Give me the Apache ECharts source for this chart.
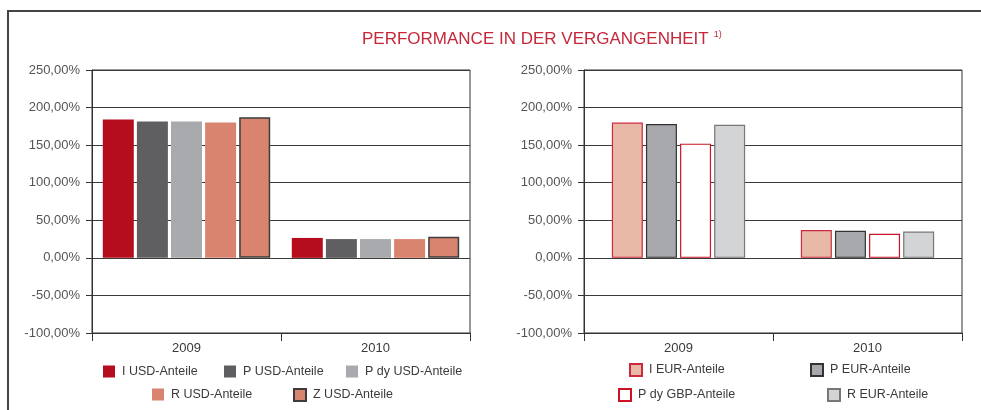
<!DOCTYPE html>
<html>
<head>
<meta charset="utf-8">
<script src="https://cdn.jsdelivr.net/npm/echarts@6/dist/echarts.min.js"></script>
<style>
    html, body { margin: 0; padding: 0; background: #fff; }
    #main { width: 981px; height: 410px; }
</style>
</head>
<body>
<div id="main"></div>
<script>
var years = ['2009', '2010'];
var usdNames = ['I USD-Anteile', 'P USD-Anteile', 'P dy USD-Anteile', 'R USD-Anteile', 'Z USD-Anteile'];
var usdValues = [
    [184, 26.5],
    [181.5, 25],
    [181.5, 25],
    [180, 25],
    [187, 28]
];
var eurNames = ['I EUR-Anteile', 'P EUR-Anteile', 'P dy GBP-Anteile', 'R EUR-Anteile'];
var eurValues = [
    [180, 37],
    [178, 36],
    [152, 32],
    [177, 35]
];
var yMin = -100, yMax = 250, yStep = 50;

var myChart = echarts.init(document.getElementById('main'));

var usdStyles = [
    {color: '#b50d1e'},
    {color: '#5f5f61'},
    {color: '#a9aaad'},
    {color: '#d9846f'},
    {color: '#d9846f', borderColor: '#3c3c3c', borderWidth: 1.5}
];
var eurStyles = [
    {color: '#e9b9a8', borderColor: '#cc2a3c', borderWidth: 1.2},
    {color: '#a8a9ac', borderColor: '#333333', borderWidth: 1.2},
    {color: '#ffffff', borderColor: '#cc1426', borderWidth: 1.2},
    {color: '#d3d4d6', borderColor: '#777777', borderWidth: 1.2}
];
// legend icon positions [left, top]
var usdLegendPos = [[103, 365], [224, 365], [346, 365], [152, 388], [293, 388]];
var eurLegendPos = [[629, 363], [810, 363], [618, 388], [827, 388]];

var txt = '#3a3a3a';
var font = 'Liberation Sans';

function yAxisOf(idx) {
    return {
        type: 'value',
        gridIndex: idx,
        min: yMin,
        max: yMax,
        interval: yStep,
        axisLine: {show: true, lineStyle: {color: '#333', width: 1}},
        axisTick: {show: true, length: 6, lineStyle: {color: '#333'}},
        axisLabel: {
            margin: 12,
            color: '#555',
            fontSize: 13,
            fontFamily: font,
            formatter: function (v) {
                return v.toFixed(2).replace('.', ',') + '%';
            }
        },
        splitLine: {show: true, lineStyle: {color: '#3a3a3a', width: 1}}
    };
}
function xAxisOf(idx) {
    return {
        type: 'category',
        gridIndex: idx,
        data: years,
        axisLine: {show: true, onZero: false, lineStyle: {color: '#333', width: 1}},
        axisTick: {show: true, length: 8, lineStyle: {color: '#333'}},
        axisLabel: {margin: 9, color: txt, fontSize: 13, fontFamily: font}
    };
}

function legendOf(n, pos) {
    return {
        data: [n],
        left: pos[0],
        top: pos[1],
        padding: 0,
        icon: 'rect',
        itemWidth: 12,
        itemHeight: 12,
        itemGap: 0,
        selectedMode: false,
        textStyle: {color: txt, fontSize: 12.5, fontFamily: font, padding: [0, 0, 0, 2]}
    };
}

var series = [];
var legends = [];
usdNames.forEach(function (n, i) {
    series.push({
        name: n,
        type: 'bar',
        xAxisIndex: 0,
        yAxisIndex: 0,
        barWidth: 31,
        barGap: '10%',
        data: usdValues[i],
        itemStyle: usdStyles[i]
    });
    legends.push(legendOf(n, usdLegendPos[i]));
});
eurNames.forEach(function (n, i) {
    series.push({
        name: n,
        type: 'bar',
        xAxisIndex: 1,
        yAxisIndex: 1,
        barWidth: 31,
        barGap: '10%',
        data: eurValues[i],
        itemStyle: eurStyles[i]
    });
    legends.push(legendOf(n, eurLegendPos[i]));
});

var option = {
    backgroundColor: '#fff',
    animation: false,
    title: {
        text: '{a|PERFORMANCE IN DER VERGANGENHEIT} {b|1)}',
        left: 357,
        top: 25,
        textStyle: {
            rich: {
                a: {color: '#c4283a', fontSize: 17, fontWeight: 'normal', fontFamily: font},
                b: {color: '#c4283a', fontSize: 9, fontWeight: 'normal', fontFamily: font, verticalAlign: 'top', padding: [0, 0, 8, 0]}
            }
        }
    },
    legend: legends,
    grid: [
        {left: 92, top: 70, width: 378, height: 263, show: true, borderColor: '#333', borderWidth: 1},
        {left: 584, top: 70, width: 378, height: 263, show: true, borderColor: '#333', borderWidth: 1}
    ],
    xAxis: [xAxisOf(0), xAxisOf(1)],
    yAxis: [yAxisOf(0), yAxisOf(1)],
    graphic: [
        {type: 'line', shape: {x1: 8, y1: 11, x2: 981, y2: 11}, style: {stroke: '#444', lineWidth: 2}},
        {type: 'line', shape: {x1: 8, y1: 10, x2: 8, y2: 410}, style: {stroke: '#444', lineWidth: 2}}
    ],
    series: series
};
myChart.setOption(option);
</script>
</body>
</html>
